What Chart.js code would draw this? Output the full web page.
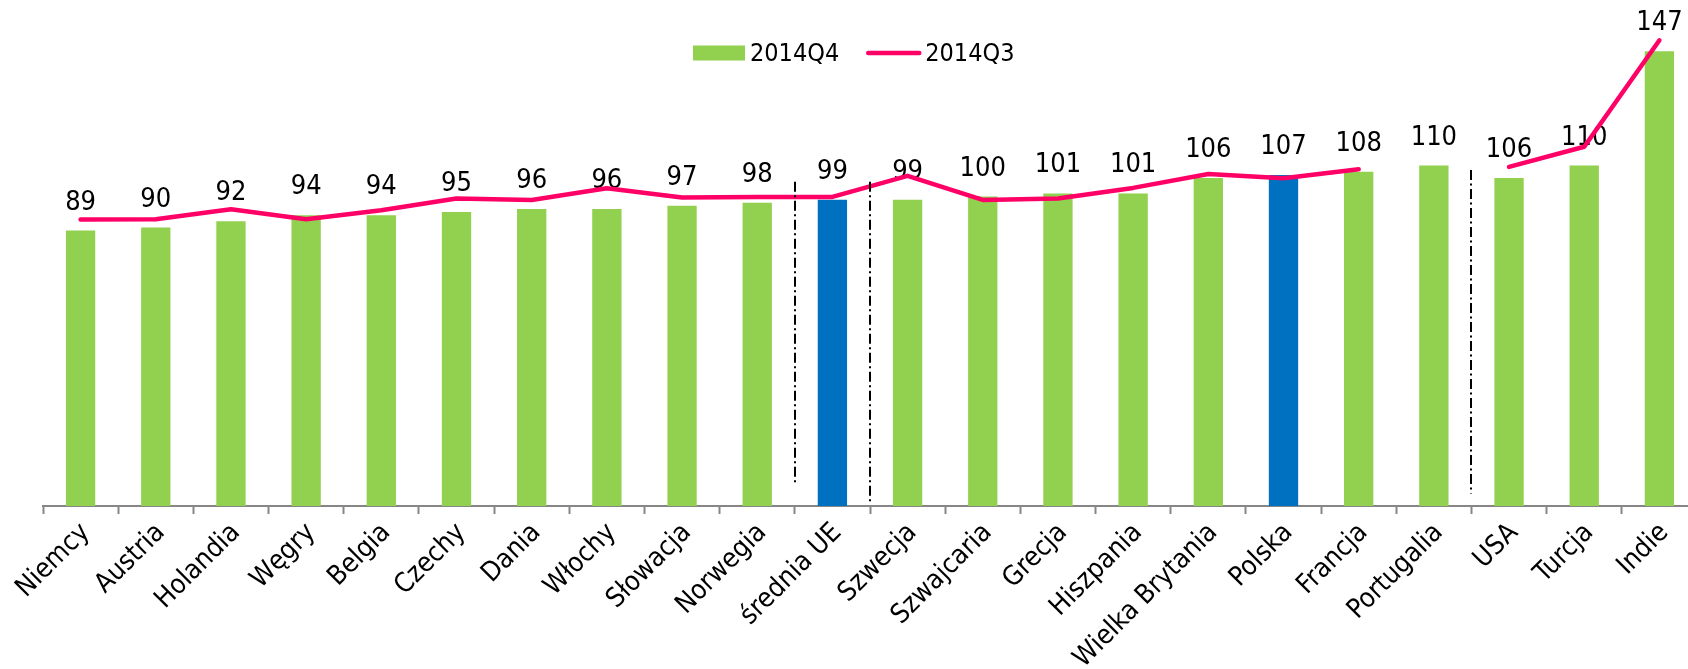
<!DOCTYPE html>
<html>
<head>
<meta charset="utf-8">
<script src="https://cdn.jsdelivr.net/npm/chart.js@4/dist/chart.umd.min.js"></script>
<style>
  html, body { margin: 0; padding: 0; background: #fff; overflow: hidden; }
  #wrap { width: 1720px; height: 669px; }
</style>
</head>
<body>
<div id="wrap"><canvas id="c" width="1720" height="669"></canvas></div>
<script>
const categories = ['Niemcy','Austria','Holandia','Węgry','Belgia','Czechy','Dania','Włochy','Słowacja','Norwegia','średnia UE','Szwecja','Szwajcaria','Grecja','Hiszpania','Wielka Brytania','Polska','Francja','Portugalia','USA','Turcja','Indie'];
const q4Values = [89,90,92,94,94,95,96,96,97,98,99,99,100,101,101,106,107,108,110,106,110,147];
const q3Values = [92.6,92.7,95.9,92.7,95.6,99.4,98.9,102.7,99.7,99.9,99.9,106.7,98.9,99.4,102.8,107.3,105.9,108.8,null,109.6,116.1,150.5];
const seriesNames = ['2014Q4','2014Q3'];
const highlighted = ['średnia UE','Polska'];
// vertical dash-dot separators: placed after the named category, spanning value range
const separatorAfter = ['Norwegia','średnia UE','Portugalia'];
const separatorTop = [104.8, 104.8, 108.6];
const separatorBottom = [7.7, 0.8, 4.0];

const GREEN = '#92D050', BLUE = '#0070C0', PINK = '#FF0066';
const FONT = '"DejaVu Sans Condensed", "DejaVu Sans", sans-serif';

const barColors = categories.map(c => highlighted.includes(c) ? BLUE : GREEN);

const labelPlugin = {
  id: 'barLabels',
  afterDatasetDraw(chart, args) {
    if (args.index !== 0) return;
    const ctx = chart.ctx;
    ctx.save();
    ctx.font = '27px ' + FONT;
    ctx.fillStyle = '#000';
    ctx.textAlign = 'center';
    ctx.textBaseline = 'middle';
    args.meta.data.forEach((el, i) => {
      ctx.fillText(String(q4Values[i]), el.x, el.y - 28);
    });
    ctx.restore();
  }
};

const separatorPlugin = {
  id: 'separators',
  afterDatasetsDraw(chart) {
    const ctx = chart.ctx, xs = chart.scales.x, ys = chart.scales.y;
    ctx.save();
    ctx.strokeStyle = '#000';
    ctx.lineWidth = 2;
    ctx.setLineDash([10, 3.5, 2, 3.5]);
    separatorAfter.forEach((name, k) => {
      const i = categories.indexOf(name);
      const x = Math.round((xs.getPixelForValue(i) + xs.getPixelForValue(i + 1)) / 2);
      ctx.beginPath();
      ctx.moveTo(x, ys.getPixelForValue(separatorTop[k]));
      ctx.lineTo(x, ys.getPixelForValue(separatorBottom[k]));
      ctx.stroke();
    });
    ctx.restore();
  }
};

const legendPlugin = {
  id: 'customLegend',
  afterDraw(chart) {
    const ctx = chart.ctx;
    const ds = chart.data.datasets;
    ctx.save();
    ctx.font = '25px ' + FONT;
    ctx.textBaseline = 'middle';
    ctx.fillStyle = '#000';
    const cy = 53;
    let x = 693;
    ctx.fillStyle = GREEN;
    ctx.fillRect(x, cy - 7.5, 52, 15);
    x += 52 + 5;
    ctx.fillStyle = '#000';
    ctx.textAlign = 'left';
    ctx.fillText(ds[0].label, x, cy + 1);
    x += ctx.measureText(ds[0].label).width + 27;
    ctx.strokeStyle = PINK;
    ctx.lineWidth = 4.5;
    ctx.lineCap = 'round';
    ctx.beginPath();
    ctx.moveTo(x + 2, cy);
    ctx.lineTo(x + 53, cy);
    ctx.stroke();
    x += 55 + 4;
    ctx.fillText(ds[1].label, x, cy + 1);
    ctx.restore();
  }
};

new Chart(document.getElementById('c'), {
  data: {
    labels: categories,
    datasets: [
      {
        type: 'bar',
        label: seriesNames[0],
        data: q4Values,
        backgroundColor: barColors,
        borderWidth: 0,
        barPercentage: 0.39,
        categoryPercentage: 1,
        order: 2
      },
      {
        type: 'line',
        label: seriesNames[1],
        data: q3Values,
        borderColor: PINK,
        borderWidth: 4.5,
        pointRadius: 0,
        pointHoverRadius: 0,
        tension: 0,
        spanGaps: false,
        borderCapStyle: 'round',
        borderJoinStyle: 'round',
        fill: false,
        order: 1
      }
    ]
  },
  options: {
    responsive: false,
    devicePixelRatio: 1,
    animation: false,
    layout: { padding: { top: 14, right: 23, left: 0, bottom: 0 } },
    plugins: {
      legend: { display: false },
      tooltip: { enabled: false }
    },
    scales: {
      x: {
        type: 'category',
        offset: true,
        grid: {
          offset: true,
          drawOnChartArea: false,
          drawTicks: true,
          tickLength: 8,
          tickWidth: 2,
          tickColor: '#868686',
          color: '#868686'
        },
        border: { display: true, color: '#868686', width: 2 },
        ticks: {
          autoSkip: false,
          minRotation: 45,
          maxRotation: 45,
          padding: 3,
          labelOffset: 5,
          color: '#000',
          font: { family: FONT, size: 27 }
        },
        afterFit(s) { s.height = 163; }
      },
      y: {
        min: 0,
        max: 159,
        display: true,
        grid: { display: false },
        border: { display: false },
        ticks: { display: false },
        afterFit(s) { s.width = 43; }
      }
    }
  },
  plugins: [labelPlugin, separatorPlugin, legendPlugin]
});
</script>
</body>
</html>
